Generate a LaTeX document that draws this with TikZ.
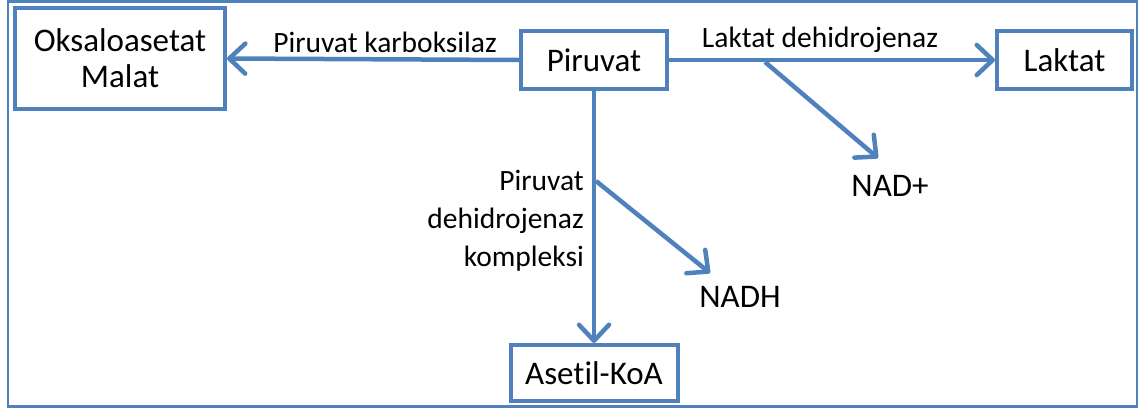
\documentclass[tikz,border=0pt]{standalone}
\usepackage{fontspec}
\setmainfont{Carlito}[Ligatures=NoCommon]
\usetikzlibrary{arrows.meta}
\definecolor{ablue}{HTML}{4F81BD}
\tikzset{
  box/.style={draw=ablue, line width=4pt, fill=white, inner sep=0pt, font=\fontsize{33}{36}\selectfont, align=center},
  lbl/.style={inner sep=0pt, font=\fontsize{29.5}{38}\selectfont},
  prod/.style={inner sep=0pt, font=\fontsize{33}{36}\selectfont},
  conn/.style={draw=ablue, line width=4.5pt, -{Straight Barb[length=16pt,width=30pt,line width=4.5pt,line cap=round,round]}}
}
\begin{document}
\begin{tikzpicture}[x=1pt,y=-1pt]
\useasboundingbox (0,0) rectangle (1142,410);
\draw[ablue, line width=2.5pt] (8,1.5) rectangle (1137,406.5);
\node[box, minimum width=210pt, minimum height=101pt] (oks) at (120,58.5) {Oksaloasetat\\Malat};
\node[box, minimum width=146pt, minimum height=58pt] (pir) at (594,60) {Piruvat};
\node[box, minimum width=135pt, minimum height=58pt] (lak) at (1064.5,60) {Laktat};
\node[box, minimum width=167pt, minimum height=56pt] (ase) at (594,373) {Asetil-KoA};
\coordinate (b1) at (596,181);
\coordinate (b2) at (765,62);
\node[prod] (nadh) at (740,297) {NADH};
\node[prod] (nadp) at (890,186) {NAD+};
\node[lbl] (pk) at (385,42) {Piruvat karboksilaz};
\node[lbl] (ld) at (820,40) {Laktat dehidrojenaz};
\node[lbl, align=right, anchor=east] (pdk) at (584,221) {Piruvat\\dehidrojenaz\\kompleksi};
\draw[conn] (pir.west) -- (oks.east);
\draw[conn] (pir.east) -- (lak.west);
\draw[conn] (pir.south) -- (ase.north);
\draw[conn] (b1) -- (710,273) coordinate (e1);
\draw[conn] (b2) -- (878,158) coordinate (e2);
\end{tikzpicture}
\end{document}
